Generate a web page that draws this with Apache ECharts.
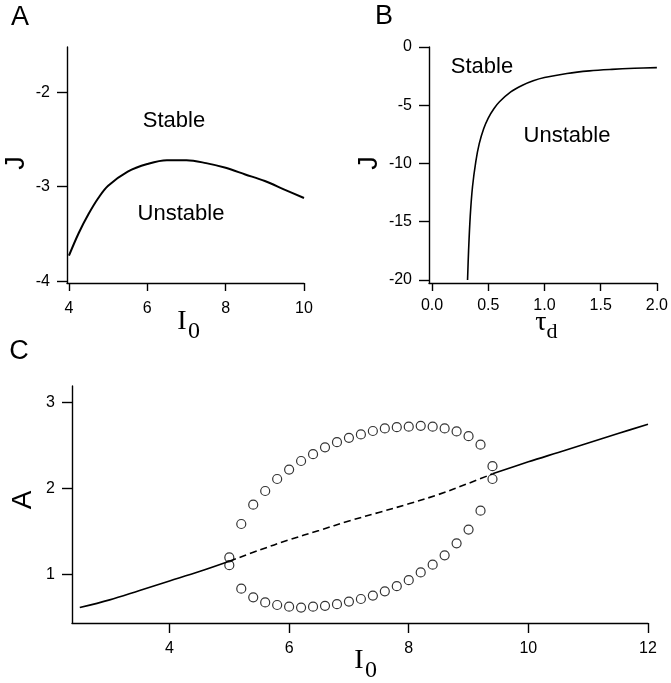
<!DOCTYPE html>
<html>
<head>
<meta charset="utf-8">
<title>Stability diagrams</title>
<script src="https://cdn.jsdelivr.net/npm/echarts@6/dist/echarts.min.js"></script>
<style>
  html, body { margin: 0; padding: 0; background: #fff; }
  #main { width: 671px; height: 683px; }
</style>
</head>
<body>
<div id="main"></div>
<script>
// panel A: J boundary vs I0
const aI0 = [4, 4.25, 4.5, 4.75, 5, 5.5, 6, 6.5, 7, 7.5, 8, 8.5, 9, 9.5, 10]
const aJ = [-3.73, -3.49, -3.29, -3.12, -2.99, -2.84, -2.76, -2.72, -2.72, -2.75, -2.80, -2.87, -2.94, -3.03, -3.12]
const aXTicks = [4, 6, 8, 10]
const aYTicks = [-4, -3, -2]

// panel B: J boundary vs tau_d
const bTau = [0.316, 0.325, 0.34, 0.36, 0.39, 0.42, 0.46, 0.5, 0.55, 0.6, 0.7, 0.8, 0.9, 1.0, 1.2, 1.4, 1.6, 1.8, 2.0]
const bJ = [-20, -17.5, -14.5, -12, -9.8, -8.3, -7.0, -6.1, -5.3, -4.7, -3.85, -3.3, -2.9, -2.62, -2.27, -2.05, -1.92, -1.83, -1.77]
const bXTicks = [0, 0.5, 1, 1.5, 2]
const bYTicks = [-20, -15, -10, -5, 0]

// panel C: fixed point (solid = stable, dashed = unstable) and oscillation max/min (circles)
const cXLeft = [2.5, 3, 3.5, 4, 4.5, 5]
const cALeft = [0.61, 0.70, 0.81, 0.92, 1.03, 1.15]
const cXDash = [5, 5.5, 6, 6.5, 7, 7.5, 8, 8.5, 9, 9.4]
const cADash = [1.15, 1.28, 1.40, 1.51, 1.62, 1.72, 1.82, 1.93, 2.06, 2.17]
const cXRight = [9.4, 10, 10.5, 11, 11.5, 12]
const cARight = [2.17, 2.31, 2.42, 2.53, 2.64, 2.75]
const cCircX = [5.0, 5.2, 5.4, 5.6, 5.8, 6.0, 6.2, 6.4, 6.6, 6.8, 7.0, 7.2, 7.4, 7.6, 7.8, 8.0, 8.2, 8.4, 8.6, 8.8, 9.0, 9.2, 9.4]
const cMax = [1.195, 1.585, 1.81, 1.97, 2.11, 2.22, 2.32, 2.40, 2.48, 2.54, 2.59, 2.63, 2.67, 2.70, 2.715, 2.72, 2.73, 2.72, 2.70, 2.665, 2.61, 2.51, 2.26]
const cMin = [1.105, 0.83, 0.73, 0.67, 0.64, 0.62, 0.61, 0.62, 0.63, 0.65, 0.68, 0.71, 0.75, 0.80, 0.86, 0.93, 1.02, 1.11, 1.22, 1.36, 1.52, 1.74, 2.11]
const cXTicks = [4, 6, 8, 10, 12]
const cYTicks = [1, 2, 3]

const SANS = "'Liberation Sans', Arial, Helvetica, sans-serif"
const SERIF = "'Liberation Serif', 'Times New Roman', serif"

function zip(xs, ys) {
  return xs.map((x, i) => [x, ys[i]])
}

// shared axis look
function axis(min, max, ticks, margin, tickLen, fmt) {
  return {
    type: 'value',
    min: min,
    max: max,
    axisLine: { onZero: false, lineStyle: { color: '#000', width: 1.4 } },
    axisTick: { customValues: ticks, length: tickLen, lineStyle: { color: '#000', width: 1.4 } },
    axisLabel: {
      customValues: ticks,
      margin: margin,
      color: '#000',
      fontSize: 16,
      fontFamily: SANS,
      formatter: fmt || (v => String(v))
    },
    splitLine: { show: false }
  }
}

function label(text, x, y, size, family, rot) {
  return {
    type: 'text',
    x: x,
    y: y,
    rotation: rot || 0,
    style: {
      text: text,
      fontSize: size,
      fontFamily: family,
      fill: '#000',
      textAlign: 'center',
      textVerticalAlign: 'middle'
    }
  }
}

// plain smoothed line, no symbols
function curve(xi, xs, ys, extra) {
  return {
    type: 'line',
    xAxisIndex: xi,
    yAxisIndex: xi,
    data: zip(xs, ys),
    smooth: 0.35,
    showSymbol: false,
    lineStyle: Object.assign({ color: '#000', width: 1.6 }, extra || {})
  }
}

function circles(xs, ys) {
  return {
    type: 'scatter',
    xAxisIndex: 2,
    yAxisIndex: 2,
    data: zip(xs, ys),
    symbol: 'circle',
    symbolSize: 9,
    itemStyle: { color: 'rgba(0,0,0,0)', borderColor: '#000', borderWidth: 1.2 }
  }
}

var myChart = echarts.init(document.getElementById('main'))

var option = {
  animation: false,
  backgroundColor: '#fff',
  grid: [
    { left: 67, top: 47, width: 237, height: 236 },
    { left: 429, top: 47, width: 229, height: 236 },
    { left: 72, top: 386, width: 576, height: 237 }
  ],
  xAxis: [
    Object.assign(axis(3.95, 10, aXTicks, 18, 8), { gridIndex: 0 }),
    Object.assign(axis(-0.027, 2, bXTicks, 15, 8, v => v.toFixed(1)), { gridIndex: 1 }),
    Object.assign(axis(2.37, 12, cXTicks, 18, 10), { gridIndex: 2 })
  ],
  yAxis: [
    Object.assign(axis(-4.02, -1.52, aYTicks, 17, 10), { gridIndex: 0 }),
    Object.assign(axis(-20.26, 0, bYTicks, 17, 10), { gridIndex: 1 }),
    Object.assign(axis(0.43, 3.195, cYTicks, 17, 10), { gridIndex: 2 })
  ],
  series: [
    curve(0, aI0, aJ, { width: 2 }),
    curve(1, bTau, bJ),
    curve(2, cXLeft, cALeft),
    curve(2, cXDash, cADash, { type: [7, 4] }),
    curve(2, cXRight, cARight),
    circles(cCircX, cMax),
    circles(cCircX, cMin)
  ],
  // panel letters, region names and axis names
  graphic: [
    label('A', 20, 18, 27, SANS),
    label('B', 384, 17, 27, SANS),
    label('C', 19, 352, 27, SANS),
    label('Stable', 174, 121, 22, SANS),
    label('Unstable', 181, 214, 22, SANS),
    label('Stable', 482, 67, 22, SANS),
    label('Unstable', 567, 136, 22, SANS),
    label('J', 17, 163, 27, SANS, Math.PI / 2),
    label('J', 370, 163, 27, SANS, Math.PI / 2),
    label('A', 23, 500, 28, SANS, Math.PI / 2),
    label('I', 182, 322, 28, SERIF),
    label('0', 194, 332, 24, SERIF),
    label('τ', 541, 323, 28, SERIF),
    label('d', 552, 332, 22, SERIF),
    label('I', 359, 661, 28, SERIF),
    label('0', 371, 671, 24, SERIF)
  ]
}

myChart.setOption(option)
</script>
</body>
</html>
